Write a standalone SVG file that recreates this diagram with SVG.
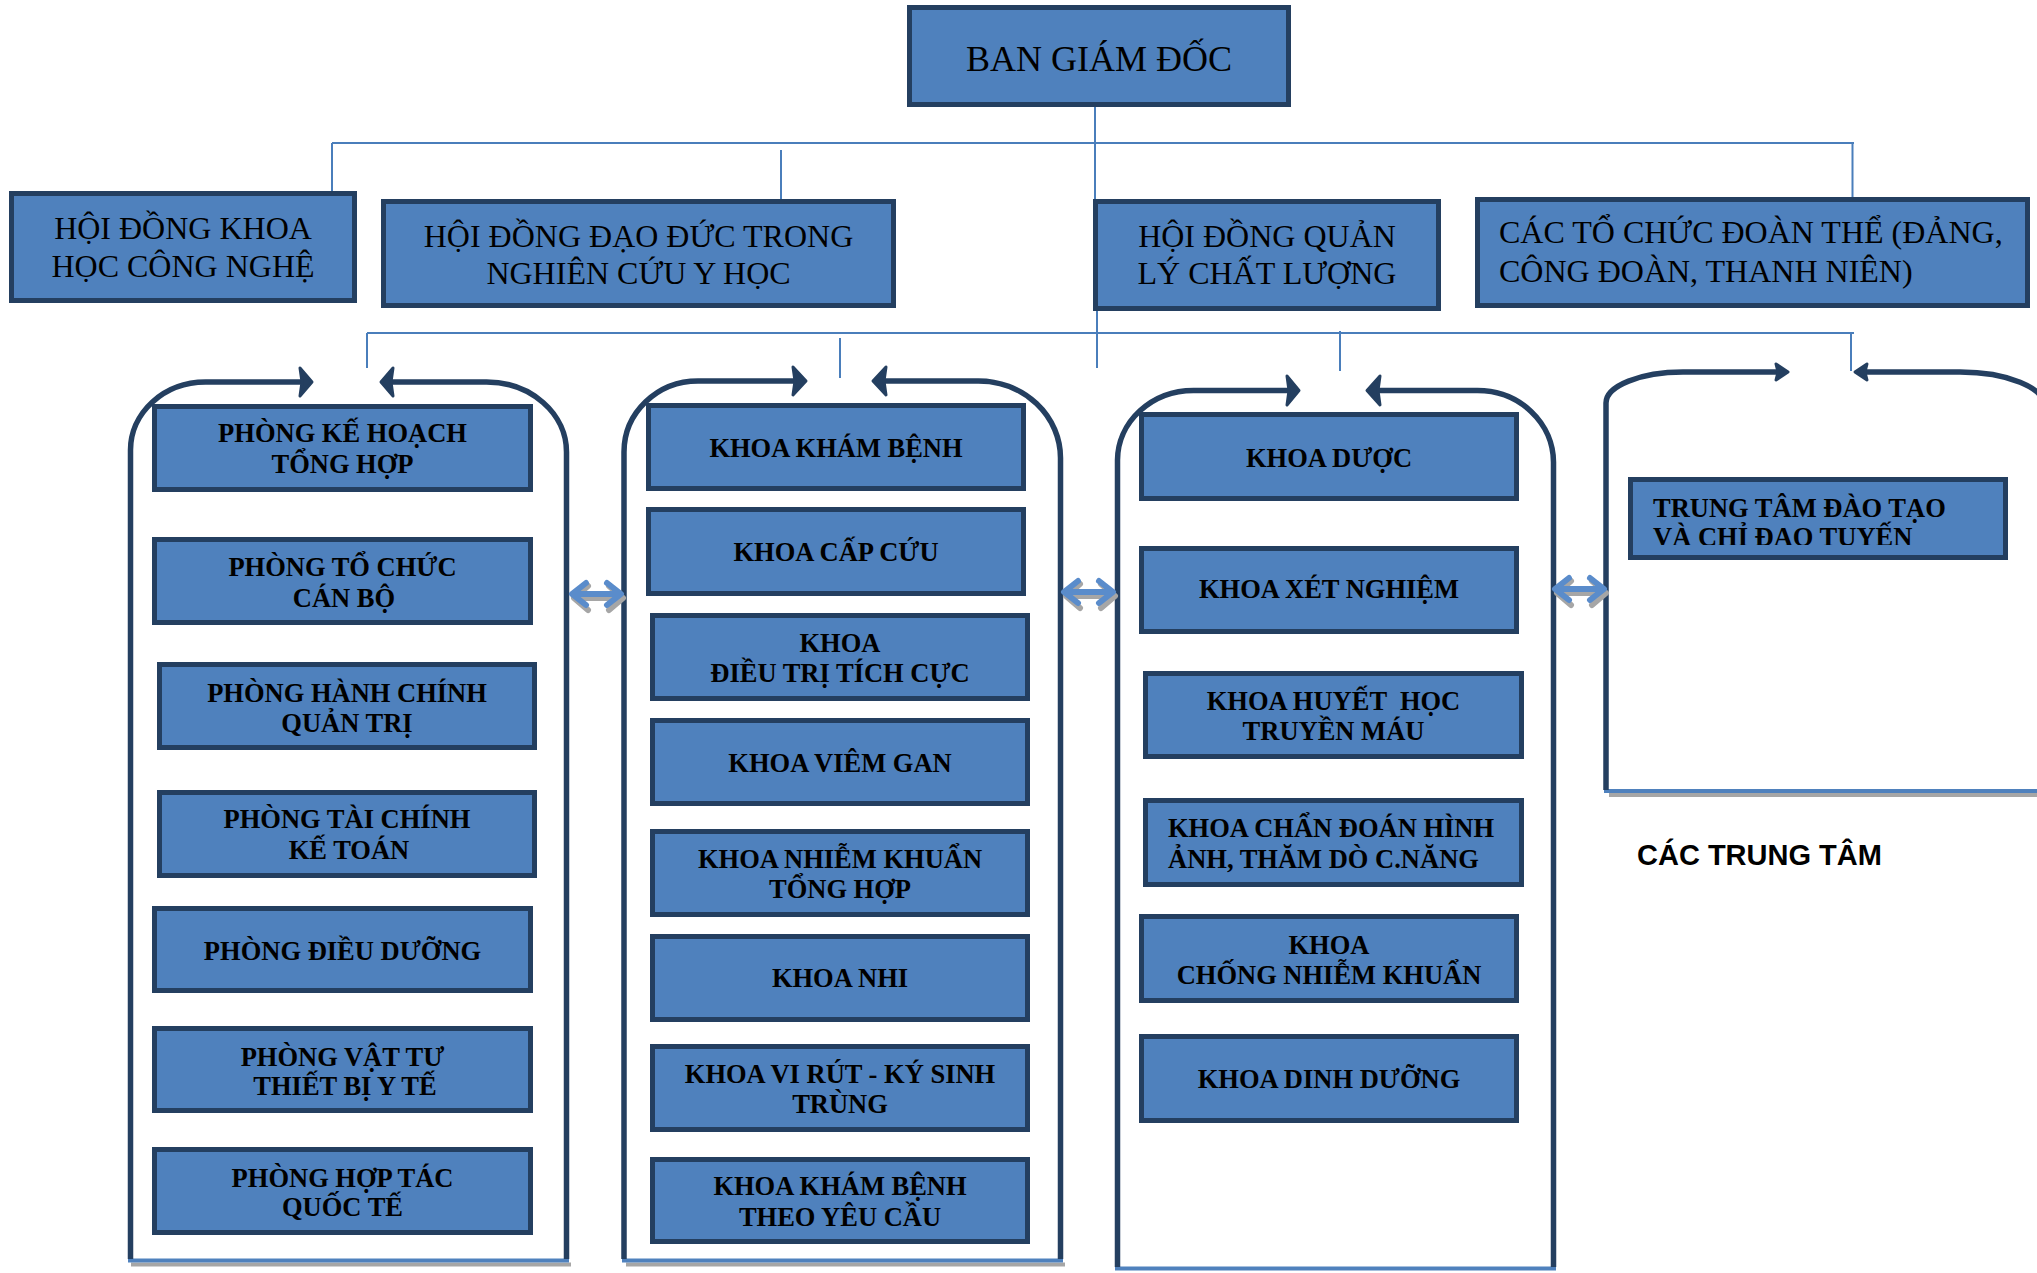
<svg xmlns="http://www.w3.org/2000/svg" width="2037" height="1273" viewBox="0 0 2037 1273">
<style>
.box{fill:#4F81BD;stroke:#243F60;stroke-width:5}
.t1{font-family:"Liberation Serif","Times New Roman",serif;font-size:32px;fill:#000;text-anchor:middle}
.t0{font-family:"Liberation Serif","Times New Roman",serif;font-size:36px;fill:#000;text-anchor:middle}
.tb{font-family:"Liberation Serif","Times New Roman",serif;font-size:26.5px;font-weight:bold;fill:#000;text-anchor:middle}
.conn{stroke:#4A7EBB;stroke-width:2;fill:none}
.cont{stroke:#243F60;stroke-width:5.5;fill:none}
.head{fill:#243F60;stroke:#243F60;stroke-width:3;stroke-linejoin:round}
.base{stroke:#4F81BD;stroke-width:4;fill:none}
.shadow{stroke:#A6A6A6;stroke-width:4;fill:none}
.dbl{stroke:#5A8CCB;stroke-width:6;fill:none;stroke-linecap:round;stroke-linejoin:round}
.dbls{stroke:#A6A6A6;stroke-width:6;fill:none;stroke-linecap:round;stroke-linejoin:round}
</style>
<defs>
<clipPath id="clipTT"><rect x="1628" y="477" width="380" height="68"/></clipPath>
</defs>
<rect width="2037" height="1273" fill="#fff"/>

<g id="connectors">
<path class="conn" d="M1095,107 V260 M1097,300 V368"/>
<path class="conn" d="M332,143 H1854 M332,143 V191 M781,150 V199 M1852.5,143 V197"/>
<path class="conn" d="M367,333 H1854 M367,333 V368 M840,338 V378 M1340,331 V371 M1851,333 V371"/>
</g>

<g id="containers">
<g id="container-1">
<path class="shadow" d="M131,1264.5 H571"/>
<path class="base" d="M128,1260.5 H569"/>
<path class="cont" d="M130.5,1259 V450 A75,68 0 0 1 205.5,382 H301"/>
<polygon class="head" points="300,368 312,382 300,396 302,382"/>
<path class="cont" d="M566.5,1259 V452 A80,70 0 0 0 486.5,382 H392"/>
<polygon class="head" points="393,368 381,382 393,396 391,382"/>
</g>
<g id="container-2">
<path class="shadow" d="M626,1264.5 H1065"/>
<path class="base" d="M622,1260.5 H1063"/>
<path class="cont" d="M624,1259 V452 A74,71 0 0 1 698,381 H794"/>
<polygon class="head" points="793,367 806,381 793,395 795,381"/>
<path class="cont" d="M1060.5,1259 V458 A82,77 0 0 0 978.5,381 H885"/>
<polygon class="head" points="886,367 873,381 886,395 884,381"/>
</g>
<g id="container-3">
<path class="base" d="M1115,1268.5 H1556"/>
<path class="cont" d="M1117.5,1267 V460 A76,70 0 0 1 1193.5,390.5 H1288"/>
<polygon class="head" points="1287,376 1299,390.5 1287,405 1289,390.5"/>
<path class="cont" d="M1553.5,1267 V462 A76,72 0 0 0 1477.5,390.5 H1379"/>
<polygon class="head" points="1380,376 1367,390.5 1380,405 1378,390.5"/>
</g>
<g id="container-4">
<path class="shadow" d="M1609,795 H2037"/>
<path class="base" d="M1604,791 H2037"/>
<path class="cont" d="M1606,790 V403 A77,31 0 0 1 1683,372 H1777"/>
<polygon class="head" points="1776,364 1788,372 1776,380 1778,372"/>
<path class="cont" d="M2045,790 V407 A85,35 0 0 0 1960,372 H1866"/>
<polygon class="head" points="1867,364 1855,372 1867,380 1865,372"/>
</g>
</g>

<g id="double-arrows">
<g id="arrow-1-2">
<path class="dbls" d="M576,598 H621 M588,586 L574,598 L588,610 M609,586 L623,598 L609,610"/>
<path class="dbl" d="M574,594 H619 M586,583 L572,594 L586,605 M607,583 L621,594 L607,605"/>
</g>
<g id="arrow-2-3">
<path class="dbls" d="M1068,596 H1113 M1080,584 L1066,596 L1080,608 M1101,584 L1115,596 L1101,608"/>
<path class="dbl" d="M1066,592 H1111 M1078,581 L1064,592 L1078,603 M1099,581 L1113,592 L1099,603"/>
</g>
<g id="arrow-3-4">
<path class="dbls" d="M1559,593 H1604 M1571,581 L1557,593 L1571,605 M1592,581 L1606,593 L1592,605"/>
<path class="dbl" d="M1557,589 H1602 M1569,578 L1555,589 L1569,600 M1590,578 L1604,589 L1590,600"/>
</g>
</g>

<g id="ban-giam-doc">
<rect class="box" x="909.5" y="7.5" width="379" height="97"/>
<text class="t0" x="1099" y="71">BAN GIÁM ĐỐC</text>
</g>

<g id="hd-khoa-hoc">
<rect class="box" x="11.5" y="193.5" width="343" height="107"/>
<text class="t1" x="183" y="239">HỘI ĐỒNG KHOA</text>
<text class="t1" x="183" y="277">HỌC CÔNG NGHỆ</text>
</g>
<g id="hd-dao-duc">
<rect class="box" x="383.5" y="201.5" width="510" height="104"/>
<text class="t1" x="638.5" y="247">HỘI ĐỒNG ĐẠO ĐỨC TRONG</text>
<text class="t1" x="638.5" y="284">NGHIÊN CỨU Y HỌC</text>
</g>
<g id="hd-chat-luong">
<rect class="box" x="1095.5" y="201.5" width="343" height="107"/>
<text class="t1" x="1267" y="247">HỘI ĐỒNG QUẢN</text>
<text class="t1" x="1267" y="284">LÝ CHẤT LƯỢNG</text>
</g>
<g id="doan-the">
<rect class="box" x="1477.5" y="199.5" width="550" height="106"/>
<text class="t1" x="1499" y="243" style="text-anchor:start">CÁC TỔ CHỨC ĐOÀN THỂ (ĐẢNG,</text>
<text class="t1" x="1499" y="282" style="text-anchor:start">CÔNG ĐOÀN, THANH NIÊN)</text>
</g>

<g id="p-ke-hoach">
<rect class="box" x="154.5" y="406.5" width="376" height="83"/>
<text class="tb" x="342.5" y="442">PHÒNG KẾ HOẠCH</text>
<text class="tb" x="342.5" y="473">TỔNG HỢP</text>
</g>
<g id="p-to-chuc">
<rect class="box" x="154.5" y="539.5" width="376" height="83"/>
<text class="tb" x="342.5" y="576">PHÒNG TỔ CHỨC</text>
<text class="tb" x="344" y="607">CÁN BỘ</text>
</g>
<g id="p-hanh-chinh">
<rect class="box" x="159.5" y="664.5" width="375" height="83"/>
<text class="tb" x="347" y="702">PHÒNG HÀNH CHÍNH</text>
<text class="tb" x="347" y="732">QUẢN TRỊ</text>
</g>
<g id="p-tai-chinh">
<rect class="box" x="159.5" y="792.5" width="375" height="83"/>
<text class="tb" x="347" y="828">PHÒNG TÀI CHÍNH</text>
<text class="tb" x="349" y="859">KẾ TOÁN</text>
</g>
<g id="p-dieu-duong">
<rect class="box" x="154.5" y="908.5" width="376" height="82"/>
<text class="tb" x="342.5" y="960">PHÒNG ĐIỀU DƯỠNG</text>
</g>
<g id="p-vat-tu">
<rect class="box" x="154.5" y="1028.5" width="376" height="82"/>
<text class="tb" x="342.5" y="1066">PHÒNG VẬT TƯ</text>
<text class="tb" x="345" y="1095">THIẾT BỊ Y TẾ</text>
</g>
<g id="p-hop-tac">
<rect class="box" x="154.5" y="1149.5" width="376" height="83"/>
<text class="tb" x="342.5" y="1187">PHÒNG HỢP TÁC</text>
<text class="tb" x="342.5" y="1216">QUỐC TẾ</text>
</g>

<g id="k-kham-benh">
<rect class="box" x="648.5" y="405.5" width="375" height="83"/>
<text class="tb" x="836" y="457">KHOA KHÁM BỆNH</text>
</g>
<g id="k-cap-cuu">
<rect class="box" x="648.5" y="509.5" width="375" height="84"/>
<text class="tb" x="836" y="561">KHOA CẤP CỨU</text>
</g>
<g id="k-dieu-tri">
<rect class="box" x="652.5" y="615.5" width="375" height="83"/>
<text class="tb" x="840" y="652">KHOA</text>
<text class="tb" x="840" y="682">ĐIỀU TRỊ TÍCH CỰC</text>
</g>
<g id="k-viem-gan">
<rect class="box" x="652.5" y="720.5" width="375" height="83"/>
<text class="tb" x="840" y="772">KHOA VIÊM GAN</text>
</g>
<g id="k-nhiem-khuan">
<rect class="box" x="652.5" y="831.5" width="375" height="83"/>
<text class="tb" x="840" y="868">KHOA NHIỄM KHUẨN</text>
<text class="tb" x="840" y="898">TỔNG HỢP</text>
</g>
<g id="k-nhi">
<rect class="box" x="652.5" y="936.5" width="375" height="83"/>
<text class="tb" x="840" y="987">KHOA NHI</text>
</g>
<g id="k-vi-rut">
<rect class="box" x="652.5" y="1046.5" width="375" height="83"/>
<text class="tb" x="840" y="1083">KHOA VI RÚT - KÝ SINH</text>
<text class="tb" x="840" y="1113">TRÙNG</text>
</g>
<g id="k-kham-yeu-cau">
<rect class="box" x="652.5" y="1159.5" width="375" height="82"/>
<text class="tb" x="840" y="1195">KHOA KHÁM BỆNH</text>
<text class="tb" x="840" y="1226">THEO YÊU CẦU</text>
</g>

<g id="k-duoc">
<rect class="box" x="1141.5" y="414.5" width="375" height="84"/>
<text class="tb" x="1329" y="467">KHOA DƯỢC</text>
</g>
<g id="k-xet-nghiem">
<rect class="box" x="1141.5" y="548.5" width="375" height="83"/>
<text class="tb" x="1329" y="598">KHOA XÉT NGHIỆM</text>
</g>
<g id="k-huyet-hoc">
<rect class="box" x="1145.5" y="673.5" width="376" height="83"/>
<text class="tb" x="1333.5" y="710" xml:space="preserve">KHOA HUYẾT  HỌC</text>
<text class="tb" x="1333.5" y="740">TRUYỀN MÁU</text>
</g>
<g id="k-chan-doan">
<rect class="box" x="1145.5" y="800.5" width="376" height="84"/>
<text class="tb" x="1168" y="837" style="text-anchor:start">KHOA CHẨN ĐOÁN HÌNH</text>
<text class="tb" x="1168" y="868" style="text-anchor:start">ẢNH, THĂM DÒ C.NĂNG</text>
</g>
<g id="k-chong-nk">
<rect class="box" x="1141.5" y="916.5" width="375" height="84"/>
<text class="tb" x="1329" y="954">KHOA</text>
<text class="tb" x="1329" y="984">CHỐNG NHIỄM KHUẨN</text>
</g>
<g id="k-dinh-duong">
<rect class="box" x="1141.5" y="1036.5" width="375" height="84"/>
<text class="tb" x="1329" y="1088">KHOA DINH DƯỠNG</text>
</g>

<g id="tt-dao-tao">
<rect class="box" x="1630.5" y="479.5" width="375" height="78"/>
<g clip-path="url(#clipTT)">
<text class="tb" x="1653" y="517" style="text-anchor:start">TRUNG TÂM ĐÀO TẠO</text>
<text class="tb" x="1653" y="546" style="text-anchor:start">VÀ CHỈ ĐẠO TUYẾN</text>
</g>
</g>
<text id="cac-trung-tam" x="1637" y="865" font-family="'Liberation Sans',Arial,sans-serif" font-size="29" font-weight="bold" fill="#000">CÁC TRUNG TÂM</text>
</svg>
